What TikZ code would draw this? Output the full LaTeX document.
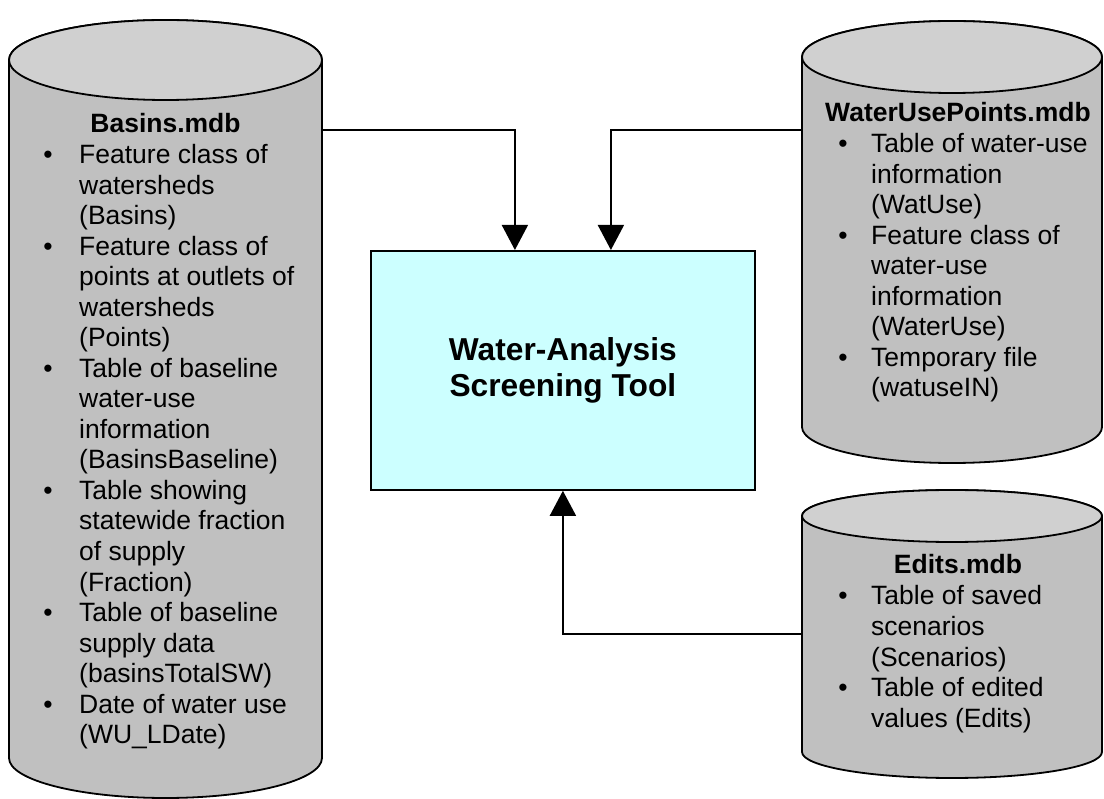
\documentclass[tikz,border=0pt]{standalone}
\usepackage{fontspec}
\setmainfont{Liberation Sans}
\usetikzlibrary{arrows.meta}
\definecolor{cylbody}{HTML}{C0C0C0}
\definecolor{cyltop}{HTML}{D0D0D0}
\definecolor{toolfill}{HTML}{CCFFFF}
\tikzset{
 txt/.style={anchor=base west, inner sep=0pt, font=\fontsize{26.5}{30.5}\selectfont},
 ttl/.style={anchor=base, inner sep=0pt, font=\fontsize{26.5}{30.5}\selectfont\bfseries},
 bul/.style={anchor=base, inner sep=0pt, font=\fontsize{26.5}{30.5}\selectfont},
 cylframe/.style={draw=none, inner sep=0pt, anchor=north west},
 arr/.style={line width=1.8pt, -{Triangle[width=26pt,length=25pt]}},
 cylline/.style={draw=black, line width=1.8pt},
}
\newcommand\drawcyl[5]{%
 \pgfmathsetmacro\cx{(#1+#2)/2}%
 \pgfmathsetmacro\rx{(#2-#1)/2}%
 \filldraw[cylline, fill=cylbody] (#1,#3) -- (#1,#4) arc[start angle=180,end angle=360,x radius=\rx pt,y radius=#5 pt] -- (#2,#3) arc[start angle=0,end angle=180,x radius=\rx pt,y radius=#5 pt] -- cycle;
 \filldraw[cylline, fill=cyltop] (\cx,#3) ellipse[x radius=\rx pt, y radius=#5 pt];
}
\begin{document}
\begin{tikzpicture}[x=1pt,y=-1pt]
\useasboundingbox (0,0) rectangle (1104,799);
% cylinders
\drawcyl{9}{322}{60}{758}{40}
\node[cylframe, minimum width=313pt, minimum height=778pt] (basins) at (9,20) {};
\drawcyl{802}{1102}{57}{427}{36}
\node[cylframe, minimum width=300pt, minimum height=442pt] (wup) at (802,21) {};
\drawcyl{802}{1102}{516}{752}{26}
\node[cylframe, minimum width=300pt, minimum height=288pt] (edits) at (802,490) {};
% tool
\node[draw, line width=1.8pt, fill=toolfill, minimum width=384pt, minimum height=239pt, anchor=north west, inner sep=0pt, align=center, font=\fontsize{31.7}{36.5}\selectfont\bfseries] (tool) at (370,250) {Water-Analysis\\Screening Tool};
% connectors
\draw[arr] (basins.east |- 0,130) -| ([xshift=-48pt]tool.north);
\draw[arr] (wup.west |- 0,130) -| ([xshift=48pt]tool.north);
\draw[arr] (edits.west |- 0,634) -| (tool.south);
% Basins text
\node[ttl] (basinsT) at (165.5,133) {Basins.mdb};
\foreach \t [count=\i from 0] in {Feature class of,watersheds,(Basins),Feature class of,points at outlets of,watersheds,(Points),Table of baseline,water-use,information,(BasinsBaseline),Table showing,statewide fraction,of supply,(Fraction),Table of baseline,supply data,(basinsTotalSW),Date of water use,(WU\_LDate)}
  \node[txt] (bl\i) at (79,{164+30.5*\i}) {\t};
\foreach \k in {0,3,7,11,15,18}
  \node[bul] (bb\k) at (48,{164+30.5*\k}) {•};
% WaterUsePoints text
\node[ttl] (wupT) at (958,122) {WaterUsePoints.mdb};
\foreach \t [count=\i from 0] in {Table of water-use,information,(WatUse),Feature class of,water-use,information,(WaterUse),Temporary file,(watuseIN)}
  \node[txt] (wl\i) at (871,{153+30.5*\i}) {\t};
\foreach \k in {0,3,7}
  \node[bul] (wb\k) at (843,{153+30.5*\k}) {•};
% Edits text
\node[ttl] (editsT) at (958,573) {Edits.mdb};
\foreach \t [count=\i from 0] in {Table of saved,scenarios,(Scenarios),Table of edited,values (Edits)}
  \node[txt] (el\i) at (871,{605+30.5*\i}) {\t};
\foreach \k in {0,3}
  \node[bul] (eb\k) at (843,{605+30.5*\k}) {•};
\end{tikzpicture}
\end{document}
